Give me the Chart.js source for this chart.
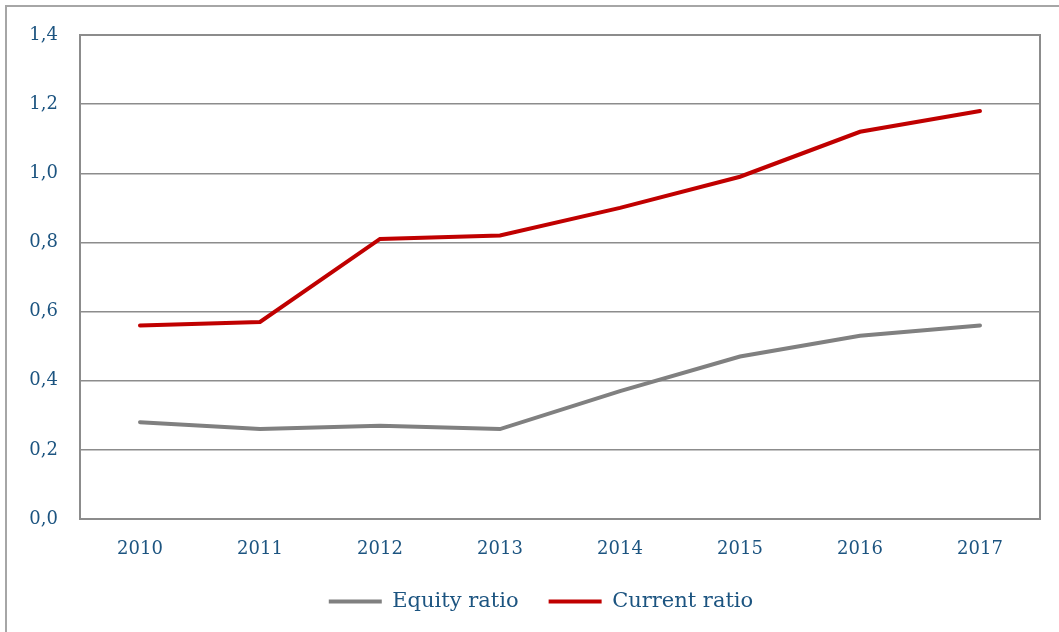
<!DOCTYPE html>
<html>
<head>
<meta charset="utf-8">
<script src="https://cdn.jsdelivr.net/npm/chart.js@4"></script>
<style>
  html, body { margin: 0; padding: 0; background: #fff; overflow: hidden; }
  #frame { position: absolute; left: 5px; top: 5px; width: 1200px; height: 800px; border: 2px solid #a6a6a6; }
  #chart { position: absolute; left: 0; top: 0; }
</style>
</head>
<body>
<div id="frame"></div>
<canvas id="chart" width="1059" height="632"></canvas>
<script>
// chart data
const years = ['2010', '2011', '2012', '2013', '2014', '2015', '2016', '2017'];
const equityRatio = [0.28, 0.26, 0.27, 0.26, 0.37, 0.47, 0.53, 0.56];
const currentRatio = [0.56, 0.57, 0.81, 0.82, 0.90, 0.99, 1.12, 1.18];

const textColor = '#1c5480';
const gridColor = '#8c8c8c';

// box around the plot area (the right edge has no axis of its own)
const plotBorder = {
    id: 'plotBorder',
    afterDraw(chart) {
        const a = chart.chartArea;
        const ctx = chart.ctx;
        ctx.save();
        ctx.strokeStyle = gridColor;
        ctx.lineWidth = 2;
        ctx.strokeRect(a.left, a.top, a.right - a.left, a.bottom - a.top);
        ctx.restore();
    }
};

// legend in the reference sits a bit right of the canvas centre
const legendShift = {
    id: 'legendShift',
    afterLayout(chart) {
        chart.legend.left += 42;
    }
};

new Chart(document.getElementById('chart').getContext('2d'), {
    type: 'line',
    data: {
        labels: years,
        datasets: [
            {
                label: 'Equity ratio',
                data: equityRatio,
                borderColor: '#808080',
                backgroundColor: '#808080',
                borderWidth: 4,
                borderCapStyle: 'round',
                pointRadius: 0,
                tension: 0
            },
            {
                label: 'Current ratio',
                data: currentRatio,
                borderColor: '#c00000',
                backgroundColor: '#c00000',
                borderWidth: 4,
                borderCapStyle: 'round',
                pointRadius: 0,
                tension: 0
            }
        ]
    },
    options: {
        responsive: false,
        animation: false,
        layout: { padding: { left: 0, top: 35, right: 19, bottom: 10 } },
        scales: {
            x: {
                offset: true,
                grid: { display: false },
                border: { color: gridColor, width: 2 },
                ticks: {
                    color: textColor,
                    font: { family: 'DejaVu Serif', size: 18 },
                    padding: 12,
                    maxRotation: 0
                },
                afterFit(scale) { scale.height = 42; }
            },
            y: {
                min: 0,
                max: 1.4,
                grid: { color: gridColor, lineWidth: 1.5, drawTicks: false },
                border: { color: gridColor, width: 2 },
                ticks: {
                    stepSize: 0.2,
                    color: textColor,
                    font: { family: 'DejaVu Serif', size: 18 },
                    padding: 22,
                    callback: v => v.toFixed(1).replace('.', ',')
                },
                afterFit(scale) { scale.width = 80; }
            }
        },
        plugins: {
            tooltip: { enabled: false },
            legend: {
                position: 'bottom',
                labels: {
                    usePointStyle: true,
                    pointStyle: 'line',
                    pointStyleWidth: 53,
                    color: textColor,
                    font: { family: 'DejaVu Serif', size: 21 },
                    padding: 30
                }
            }
        }
    },
    plugins: [plotBorder, legendShift]
});
</script>
</body>
</html>
